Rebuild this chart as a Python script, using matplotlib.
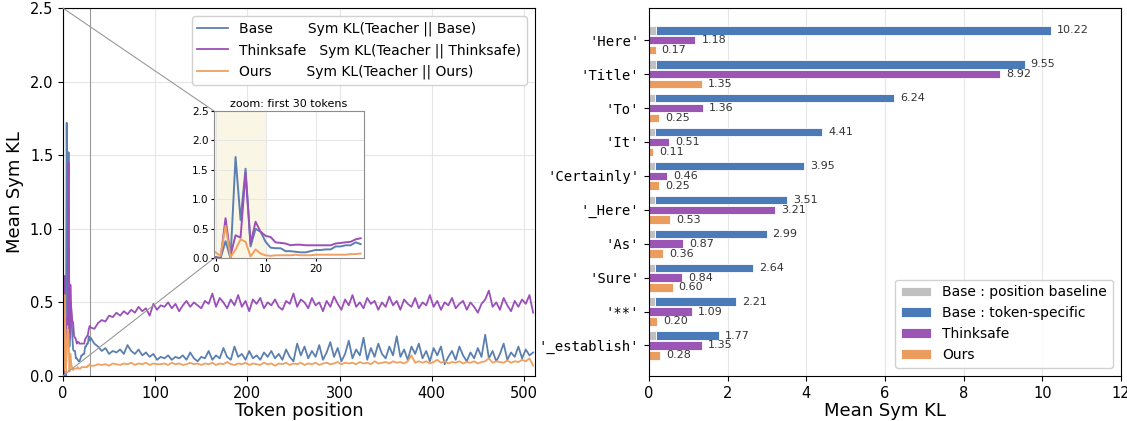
import matplotlib
matplotlib.use('Agg')
import matplotlib.pyplot as plt
from mpl_toolkits.axes_grid1.inset_locator import mark_inset
import numpy as np

# ---- left panel: per-position mean sym KL ----
# tokens 0..29 read one by one (from the zoom inset)
early_pos = list(range(30))
base_early = [0.02, 0.0, 0.29, 0.0, 1.72, 0.65, 1.52, 0.2, 0.5, 0.45,
              0.28, 0.18, 0.17, 0.17, 0.12, 0.12, 0.11, 0.1, 0.1, 0.12,
              0.14, 0.14, 0.15, 0.15, 0.2, 0.2, 0.22, 0.22, 0.27, 0.24]
think_early = [0.02, 0.0, 0.68, 0.05, 0.39, 0.35, 1.45, 0.25, 0.62, 0.45,
               0.38, 0.36, 0.27, 0.26, 0.25, 0.22, 0.23, 0.23, 0.22, 0.22,
               0.22, 0.22, 0.22, 0.22, 0.25, 0.26, 0.27, 0.28, 0.32, 0.34]
ours_early = [0.1, 0.04, 0.55, 0.02, 0.15, 0.32, 0.28, 0.03, 0.15, 0.08,
              0.05, 0.04, 0.05, 0.05, 0.05, 0.05, 0.06, 0.05, 0.05, 0.05,
              0.06, 0.06, 0.06, 0.06, 0.06, 0.06, 0.06, 0.07, 0.07, 0.08]

# tokens 30..510, read every 4th position
late_pos = list(range(30, 511, 4))
base_late = [0.26, 0.22, 0.2, 0.17, 0.19, 0.15, 0.17, 0.16, 0.18, 0.15,
             0.21, 0.17, 0.15, 0.18, 0.14, 0.16, 0.13, 0.15, 0.11, 0.13,
             0.12, 0.14, 0.11, 0.13, 0.12, 0.14, 0.11, 0.16, 0.12, 0.1,
             0.13, 0.12, 0.17, 0.11, 0.14, 0.12, 0.19, 0.13, 0.11, 0.2,
             0.13, 0.15, 0.11, 0.17, 0.12, 0.14, 0.11, 0.16, 0.13, 0.17,
             0.12, 0.15, 0.11, 0.18, 0.13, 0.1, 0.22, 0.14, 0.2, 0.12,
             0.17, 0.13, 0.21, 0.11, 0.16, 0.23, 0.13, 0.19, 0.1, 0.15,
             0.24, 0.12, 0.18, 0.14, 0.26, 0.11, 0.19, 0.13, 0.22, 0.15,
             0.12, 0.2, 0.14, 0.27, 0.13, 0.18, 0.11, 0.2, 0.15, 0.22,
             0.12, 0.17, 0.1, 0.19, 0.14, 0.2, 0.08, 0.13, 0.17, 0.11,
             0.2, 0.14, 0.1, 0.16, 0.12, 0.19, 0.13, 0.28, 0.12, 0.17,
             0.1, 0.15, 0.22, 0.11, 0.16, 0.13, 0.2, 0.12, 0.18, 0.14,
             0.16]
think_late = [0.33, 0.32, 0.36, 0.38, 0.37, 0.41, 0.4, 0.43, 0.41, 0.44,
              0.42, 0.45, 0.43, 0.47, 0.44, 0.46, 0.41, 0.49, 0.45, 0.48,
              0.47, 0.5, 0.46, 0.49, 0.44, 0.48, 0.51, 0.47, 0.5, 0.48,
              0.46, 0.51, 0.49, 0.56, 0.47, 0.53, 0.5, 0.46, 0.52, 0.48,
              0.55, 0.47, 0.51, 0.44, 0.52, 0.49, 0.53, 0.46, 0.5, 0.48,
              0.52, 0.47, 0.45, 0.51, 0.49, 0.56, 0.47, 0.52, 0.5, 0.46,
              0.53, 0.48, 0.5, 0.44, 0.51, 0.47, 0.54, 0.49, 0.45, 0.52,
              0.48, 0.55, 0.47, 0.5, 0.46, 0.53, 0.49, 0.51, 0.45, 0.5,
              0.47, 0.54, 0.48, 0.51, 0.45, 0.52, 0.49, 0.47, 0.53, 0.46,
              0.5, 0.48, 0.55, 0.47, 0.51, 0.45, 0.5, 0.48, 0.53, 0.46,
              0.49, 0.51, 0.45, 0.5, 0.47, 0.43, 0.49, 0.52, 0.58, 0.47,
              0.5, 0.45, 0.53, 0.48, 0.44, 0.51, 0.47, 0.52, 0.49, 0.55,
              0.43]
ours_late = [0.07, 0.07, 0.08, 0.075, 0.08, 0.07, 0.085, 0.08, 0.075, 0.085,
             0.08, 0.09, 0.075, 0.085, 0.08, 0.09, 0.075, 0.085, 0.08, 0.08,
             0.085, 0.075, 0.09, 0.08, 0.085, 0.075, 0.08, 0.09, 0.08, 0.085,
             0.075, 0.085, 0.08, 0.09, 0.075, 0.085, 0.08, 0.095, 0.08, 0.075,
             0.085, 0.08, 0.09, 0.075, 0.085, 0.08, 0.075, 0.09, 0.08, 0.085,
             0.07, 0.085, 0.08, 0.09, 0.075, 0.085, 0.08, 0.09, 0.075, 0.085,
             0.08, 0.09, 0.075, 0.085, 0.09, 0.08, 0.085, 0.095, 0.08, 0.09,
             0.085, 0.09, 0.08, 0.095, 0.085, 0.09, 0.08, 0.1, 0.085, 0.09,
             0.095, 0.085, 0.1, 0.09, 0.095, 0.085, 0.1, 0.14, 0.09, 0.1,
             0.09, 0.1, 0.085, 0.095, 0.11, 0.09, 0.1, 0.085, 0.095, 0.09,
             0.1, 0.085, 0.095, 0.09, 0.1, 0.085, 0.095, 0.1, 0.12, 0.09,
             0.1, 0.095, 0.09, 0.105, 0.09, 0.1, 0.095, 0.11, 0.1, 0.12,
             0.07]

# ---- right panel: per-token KL ----
tokens = ["'Here'", "'Title'", "'To'", "'It'", "'Certainly'",
          "'_Here'", "'As'", "'Sure'", "'**'", "'_establish'"]
base_total = [10.22, 9.55, 6.24, 4.41, 3.95, 3.51, 2.99, 2.64, 2.21, 1.77]
base_position = [0.17, 0.17, 0.16, 0.14, 0.16, 0.16, 0.15, 0.16, 0.16, 0.17]
thinksafe_kl = [1.18, 8.92, 1.36, 0.51, 0.46, 3.21, 0.87, 0.84, 1.09, 1.35]
ours_kl = [0.17, 1.35, 0.25, 0.11, 0.25, 0.53, 0.36, 0.60, 0.20, 0.28]

c_base_line = '#5b80b0'
c_think_line = '#9b4fb8'
c_ours_line = '#f0a060'
c_gray = '#c0c0c0'
c_blue = '#4a7ab8'
c_purple = '#9b55b5'
c_orange = '#eb9c5f'

x_all = early_pos + late_pos
base_all = base_early + base_late
think_all = think_early + think_late
ours_all = ours_early + ours_late

fig = plt.figure(figsize=(11.27, 4.21), dpi=100)
ax = fig.add_axes([0.0559, 0.1069, 0.4188, 0.8741])
ax2 = fig.add_axes([0.5759, 0.1069, 0.4188, 0.8741])

series = [('Base', base_all, c_base_line),
          ('Thinksafe', think_all, c_think_line),
          ('Ours', ours_all, c_ours_line)]
for name, vals, col in series:
    ax.plot(x_all, vals, color=col, lw=1.3,
            label=f"{name:<12}Sym KL(Teacher || {name})")

ax.set_xlim(0, 512)
ax.set_ylim(0, 2.5)
ax.set_yticks(np.arange(0, 2.51, 0.5))
ax.grid(True, color='#e6e6e6', lw=0.8)
ax.set_axisbelow(True)
ax.tick_params(labelsize=10.5)
ax.set_xlabel('Token position', fontsize=13, labelpad=1)
ax.set_ylabel('Mean Sym KL', fontsize=13)
ax.legend(loc='upper right', fontsize=10, handlelength=2.2,
          borderaxespad=0.6, framealpha=0.9)

# inset zoom on first 30 tokens
axins = ax.inset_axes([0.32, 0.32, 0.318, 0.40])
axins.axvspan(-0.5, 10, color='#f7f0d2', alpha=0.55, lw=0)
for name, vals, col in series:
    axins.plot(early_pos, vals[:30], color=col, lw=1.4)
axins.set_xlim(-0.3, 29.7)
axins.set_ylim(0, 2.5)
axins.set_xticks([0, 10, 20])
axins.set_yticks(np.arange(0, 2.51, 0.5))
axins.grid(True, color='#e6e6e6', lw=0.7)
axins.tick_params(labelsize=7.5, length=2.5, pad=1.5)
axins.set_title('zoom: first 30 tokens', fontsize=8, pad=3)
for sp in axins.spines.values():
    sp.set_color('0.55')
mark_inset(ax, axins, loc1=2, loc2=3, fc='none', ec='0.6', lw=0.8)

# ---- right panel ----
y = np.arange(len(tokens))
h = 0.25
off = 0.29
token_specific = [t - p for t, p in zip(base_total, base_position)]
ax2.barh(y - off, base_position, height=h, color=c_gray, edgecolor='white',
         lw=0.6, label='Base : position baseline')
ax2.barh(y - off, token_specific, left=base_position, height=h, color=c_blue,
         edgecolor='white', lw=0.6, label='Base : token-specific')
ax2.barh(y, thinksafe_kl, height=h, color=c_purple, edgecolor='white',
         lw=0.6, label='Thinksafe')
ax2.barh(y + off, ours_kl, height=h, color=c_orange, edgecolor='white',
         lw=0.6, label='Ours')

for i in range(len(tokens)):
    for yy, v in [(y[i] - off, base_total[i]), (y[i], thinksafe_kl[i]),
                  (y[i] + off, ours_kl[i])]:
        ax2.text(v + 0.15, yy, f'{v:.2f}', va='center', ha='left',
                 fontsize=8, color='#333333')

ax2.set_yticks(y)
ax2.set_yticklabels(tokens, family='DejaVu Sans Mono', fontsize=10)
ax2.set_ylim(9.9, -0.95)
ax2.set_xlim(0, 12)
ax2.set_xticks(range(0, 13, 2))
ax2.tick_params(axis='x', labelsize=10.5)
ax2.grid(True, axis='x', color='#e6e6e6', lw=0.8)
ax2.set_axisbelow(True)
ax2.set_xlabel('Mean Sym KL', fontsize=13, labelpad=1)
ax2.legend(loc='lower right', fontsize=10, handlelength=2.2,
           borderaxespad=0.6, framealpha=0.9)

fig.savefig('out.png', dpi=100)
